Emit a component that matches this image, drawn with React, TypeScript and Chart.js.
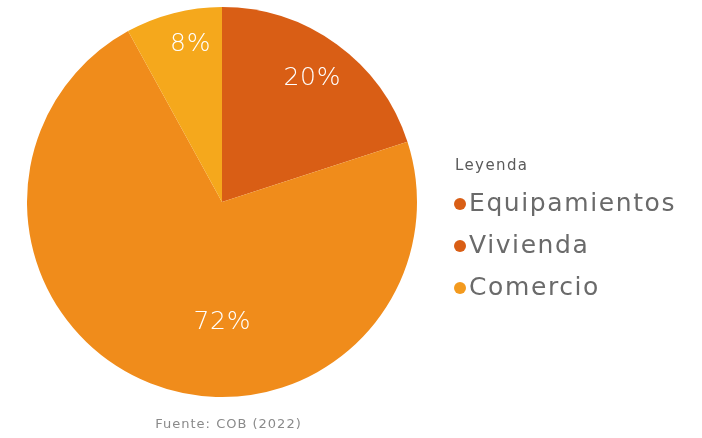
import React, { useEffect, useRef } from "react";
import { Chart, registerables } from "chart.js";

Chart.register(...registerables);

const categories = ["Equipamientos", "Vivienda", "Comercio"];
const values = [20, 72, 8];
const sliceColors = ["#D95E15", "#F08C1B", "#F5A81C"];
const legendDotColors = ["#D95E15", "#D95E15", "#F39A1E"];
const legendTitle = "Leyenda";
const sourceNote = "Fuente: COB (2022)";

// label placement inside each slice: canvas angle (deg) and fraction of radius
const labelPlacement = [
  { angle: -54, frac: 0.785 },
  { angle: 90, frac: 0.62 },
  { angle: -101.4, frac: 0.826 },
];

const FONT = "'DejaVu Sans', 'Open Sans', sans-serif";

function setSpacing(ctx: any, px: number) {
  if ("letterSpacing" in ctx) ctx.letterSpacing = px + "px";
}

const overlayPlugin = {
  id: "overlay",
  afterDraw(chart: any) {
    const ctx = chart.ctx as CanvasRenderingContext2D;
    const meta = chart.getDatasetMeta(0);
    const total = values.reduce((a, b) => a + b, 0);
    ctx.save();
    // slice labels
    ctx.fillStyle = "#FFFFFF";
    ctx.font = `300 25px ${FONT}`;
    setSpacing(ctx, 0.8);
    ctx.textAlign = "left";
    ctx.textBaseline = "middle";
    meta.data.forEach((arc: any, i: number) => {
      const p = arc.getProps(["x", "y", "outerRadius"], true);
      const pl = labelPlacement[i];
      const a = (pl.angle * Math.PI) / 180;
      const x = p.x + Math.cos(a) * p.outerRadius * pl.frac;
      const y = p.y + Math.sin(a) * p.outerRadius * pl.frac;
      const t = Math.round((values[i] / total) * 100) + "%";
      const w = ctx.measureText(t).width - 0.8;
      ctx.fillText(t, x - w / 2, y);
    });

    // legend
    const area = chart.chartArea;
    const lx = area.right + 38;
    ctx.fillStyle = "#5A5A5A";
    ctx.font = `15px ${FONT}`;
    setSpacing(ctx, 1.4);
    ctx.fillText(legendTitle, lx, 166);
    const rowY = [204, 246, 288];
    categories.forEach((c, i) => {
      ctx.beginPath();
      ctx.fillStyle = legendDotColors[i];
      ctx.arc(lx + 5, rowY[i], 6, 0, Math.PI * 2);
      ctx.fill();
      ctx.fillStyle = "#6A6A6A";
      ctx.font = `25px ${FONT}`;
      setSpacing(ctx, 1.6);
      ctx.fillText(c, lx + 14, rowY[i]);
    });

    // source
    ctx.fillStyle = "#8A8A8A";
    ctx.font = `13px ${FONT}`;
    setSpacing(ctx, 1);
    const cx = meta.data[0] ? meta.data[0].x : 222;
    const sw = ctx.measureText(sourceNote).width - 1;
    ctx.fillText(sourceNote, cx + 6 - sw / 2, 425);
    ctx.restore();
  },
};

export default function App() {
  const ref = useRef<HTMLCanvasElement | null>(null);
  useEffect(() => {
    if (!ref.current) return;
    const chart = new Chart(ref.current, {
      type: "pie",
      data: {
        labels: categories,
        datasets: [
          {
            data: values,
            backgroundColor: sliceColors,
            borderWidth: 0,
          },
        ],
      },
      options: {
        animation: false,
        responsive: false,
        maintainAspectRatio: false,
        layout: { padding: { left: 27, right: 285, top: 7, bottom: 41 } },
        plugins: {
          legend: { display: false },
          tooltip: { enabled: false },
        },
      },
      plugins: [overlayPlugin],
    });
    return () => chart.destroy();
  }, []);
  return (
    <div style={{ position: "absolute", left: 0, top: 0, width: 702, height: 438, background: "#fff" }}>
      <canvas ref={ref} width={702} height={438} style={{ width: 702, height: 438 }} />
    </div>
  );
}
